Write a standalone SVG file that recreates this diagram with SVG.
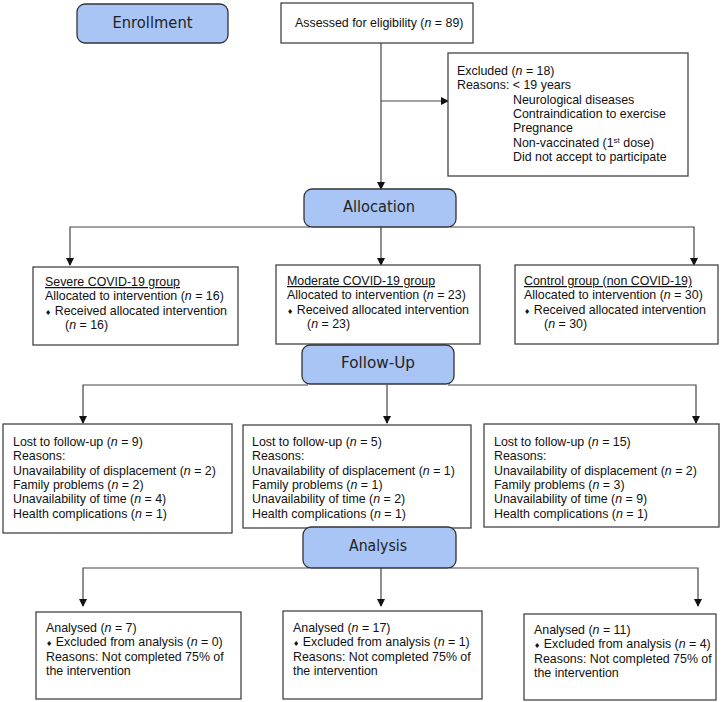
<svg xmlns="http://www.w3.org/2000/svg" width="726" height="702" viewBox="0 0 726 702">
<style>
.box{fill:#fff;stroke:#444;stroke-width:1.3}
.pill{fill:#a9c5f5;stroke:#333;stroke-width:1.3}
.pt{font-family:"DejaVu Sans",Verdana,sans-serif;font-size:16.5px;fill:#222;text-anchor:middle}
.t{font-family:"Liberation Sans",Arial,sans-serif;font-size:12.4px;fill:#111}
.i{font-style:italic}
.b{font-family:"DejaVu Sans",sans-serif;font-size:7px}
.c{fill:none;stroke:#444;stroke-width:1.2}
</style>
<defs>
<marker id="ah" markerUnits="userSpaceOnUse" markerWidth="8" markerHeight="8" refX="7" refY="4" orient="auto">
<path d="M0,0 L8,4 L0,8 z" fill="#111"/>
</marker>
</defs>
<rect width="726" height="702" fill="#fff"/>
<g id="connectors">
<path class="c" d="M381,43 V189" marker-end="url(#ah)"/>
<path class="c" d="M381,101 H448" marker-end="url(#ah)"/>
<path class="c" d="M310,227 H70 V265" marker-end="url(#ah)"/>
<path class="c" d="M381,227 V265" marker-end="url(#ah)"/>
<path class="c" d="M450,227 H694 V265" marker-end="url(#ah)"/>
<path class="c" d="M308,385 H83 V423" marker-end="url(#ah)"/>
<path class="c" d="M387,385 V423" marker-end="url(#ah)"/>
<path class="c" d="M448,385 H696 V423" marker-end="url(#ah)"/>
<path class="c" d="M309,568 H83 V606" marker-end="url(#ah)"/>
<path class="c" d="M381,568 V606" marker-end="url(#ah)"/>
<path class="c" d="M450,568 H698 V606" marker-end="url(#ah)"/>
</g>
<g id="enrollment">
<rect class="pill" x="77" y="4" width="151" height="39" rx="8"/>
<text class="pt" x="152.5" y="28" textLength="80" lengthAdjust="spacingAndGlyphs">Enrollment</text>
</g>
<g id="assessed">
<rect class="box" x="281" y="3" width="192" height="40"/>
<text class="t" x="295" y="27">Assessed  for eligibility (<tspan class="i">n</tspan> = 89)</text>
</g>
<g id="excluded">
<rect class="box" x="448" y="53" width="240" height="123"/>
<text class="t" x="457" y="75">Excluded (<tspan class="i">n</tspan> = 18)</text>
<text class="t" x="457" y="89.3">Reasons:  &lt; 19 years</text>
<text class="t" x="513" y="103.6">Neurological diseases</text>
<text class="t" x="513" y="117.9">Contraindication to exercise</text>
<text class="t" x="513" y="132.2">Pregnance</text>
<text class="t" x="513" y="146.5">Non-vaccinated (1<tspan font-size="8" dy="-4">st</tspan><tspan dy="4"> dose)</tspan></text>
<text class="t" x="513" y="160.8">Did not accept to participate</text>
</g>
<g id="allocation">
<rect class="pill" x="304" y="189" width="152" height="38" rx="8"/>
<text class="pt" x="379" y="212" textLength="72" lengthAdjust="spacingAndGlyphs">Allocation</text>
</g>
<g id="severe">
<rect class="box" x="33" y="267" width="205" height="78"/>
<text class="t" x="45" y="286" text-decoration="underline">Severe COVID-19 group</text>
<text class="t" x="45" y="300.3">Allocated to intervention (<tspan class="i">n</tspan> = 16)</text>
<text class="t" x="45" y="314.6"><tspan class="b">♦</tspan> Received allocated intervention</text>
<text class="t" x="65" y="328.9">(<tspan class="i">n</tspan> = 16)</text>
</g>
<g id="moderate">
<rect class="box" x="276" y="265" width="204" height="79"/>
<text class="t" x="287" y="285" text-decoration="underline">Moderate COVID-19 group</text>
<text class="t" x="287" y="299.3">Allocated to intervention (<tspan class="i">n</tspan> = 23)</text>
<text class="t" x="287" y="313.6"><tspan class="b">♦</tspan> Received allocated intervention</text>
<text class="t" x="307" y="327.9">(<tspan class="i">n</tspan> = 23)</text>
</g>
<g id="control">
<rect class="box" x="515" y="265" width="203" height="79"/>
<text class="t" x="524" y="285" text-decoration="underline">Control group (non COVID-19)</text>
<text class="t" x="524" y="299.3">Allocated to intervention (<tspan class="i">n</tspan> = 30)</text>
<text class="t" x="524" y="313.6"><tspan class="b">♦</tspan> Received allocated intervention</text>
<text class="t" x="544" y="327.9">(<tspan class="i">n</tspan> = 30)</text>
</g>
<g id="followup">
<rect class="pill" x="302" y="345" width="152" height="39" rx="8"/>
<text class="pt" x="378" y="368" textLength="74" lengthAdjust="spacingAndGlyphs">Follow-Up</text>
</g>
<g id="fu-severe">
<rect class="box" x="3" y="424" width="229" height="109"/>
<text class="t" x="13" y="446">Lost to follow-up (<tspan class="i">n</tspan> = 9)</text>
<text class="t" x="13" y="460.3">Reasons:</text>
<text class="t" x="13" y="474.6">Unavailability of displacement (<tspan class="i">n</tspan> = 2)</text>
<text class="t" x="13" y="488.9">Family problems (<tspan class="i">n</tspan> = 2)</text>
<text class="t" x="13" y="503.2">Unavailability of time (<tspan class="i">n</tspan> = 4)</text>
<text class="t" x="13" y="517.5">Health complications (<tspan class="i">n</tspan> = 1)</text>
</g>
<g id="fu-moderate">
<rect class="box" x="243" y="425" width="228" height="103"/>
<text class="t" x="252" y="446">Lost to follow-up (<tspan class="i">n</tspan> = 5)</text>
<text class="t" x="252" y="460.3">Reasons:</text>
<text class="t" x="252" y="474.6">Unavailability of displacement (<tspan class="i">n</tspan> = 1)</text>
<text class="t" x="252" y="488.9">Family problems (<tspan class="i">n</tspan> = 1)</text>
<text class="t" x="252" y="503.2">Unavailability of time (<tspan class="i">n</tspan> = 2)</text>
<text class="t" x="252" y="517.5">Health complications (<tspan class="i">n</tspan> = 1)</text>
</g>
<g id="fu-control">
<rect class="box" x="484" y="424" width="235" height="103"/>
<text class="t" x="494" y="446">Lost to follow-up (<tspan class="i">n</tspan> = 15)</text>
<text class="t" x="494" y="460.3">Reasons:</text>
<text class="t" x="494" y="474.6">Unavailability of displacement (<tspan class="i">n</tspan> = 2)</text>
<text class="t" x="494" y="488.9">Family problems (<tspan class="i">n</tspan> = 3)</text>
<text class="t" x="494" y="503.2">Unavailability of time (<tspan class="i">n</tspan> = 9)</text>
<text class="t" x="494" y="517.5">Health complications (<tspan class="i">n</tspan> = 1)</text>
</g>
<g id="analysis">
<rect class="pill" x="303" y="527" width="153" height="41" rx="8"/>
<text class="pt" x="378" y="551" textLength="58" lengthAdjust="spacingAndGlyphs">Analysis</text>
</g>
<g id="an-severe">
<rect class="box" x="36" y="612" width="205" height="87"/>
<text class="t" x="46" y="632">Analysed (<tspan class="i">n</tspan> = 7)</text>
<text class="t" x="46" y="646.3"><tspan class="b">♦</tspan> Excluded from analysis (<tspan class="i">n</tspan> = 0)</text>
<text class="t" x="46" y="660.6">Reasons: Not completed 75% of</text>
<text class="t" x="46" y="674.9">the intervention</text>
</g>
<g id="an-moderate">
<rect class="box" x="283" y="611" width="199" height="88"/>
<text class="t" x="293" y="632">Analysed (<tspan class="i">n</tspan> = 17)</text>
<text class="t" x="293" y="646.3"><tspan class="b">♦</tspan> Excluded from analysis (<tspan class="i">n</tspan> = 1)</text>
<text class="t" x="293" y="660.6">Reasons: Not completed 75% of</text>
<text class="t" x="293" y="674.9">the intervention</text>
</g>
<g id="an-control">
<rect class="box" x="524" y="614" width="192" height="86"/>
<text class="t" x="534" y="634">Analysed (<tspan class="i">n</tspan> = 11)</text>
<text class="t" x="534" y="648.3"><tspan class="b">♦</tspan> Excluded from analysis (<tspan class="i">n</tspan> = 4)</text>
<text class="t" x="534" y="662.6">Reasons: Not completed 75% of</text>
<text class="t" x="534" y="676.9">the intervention</text>
</g>
</svg>
